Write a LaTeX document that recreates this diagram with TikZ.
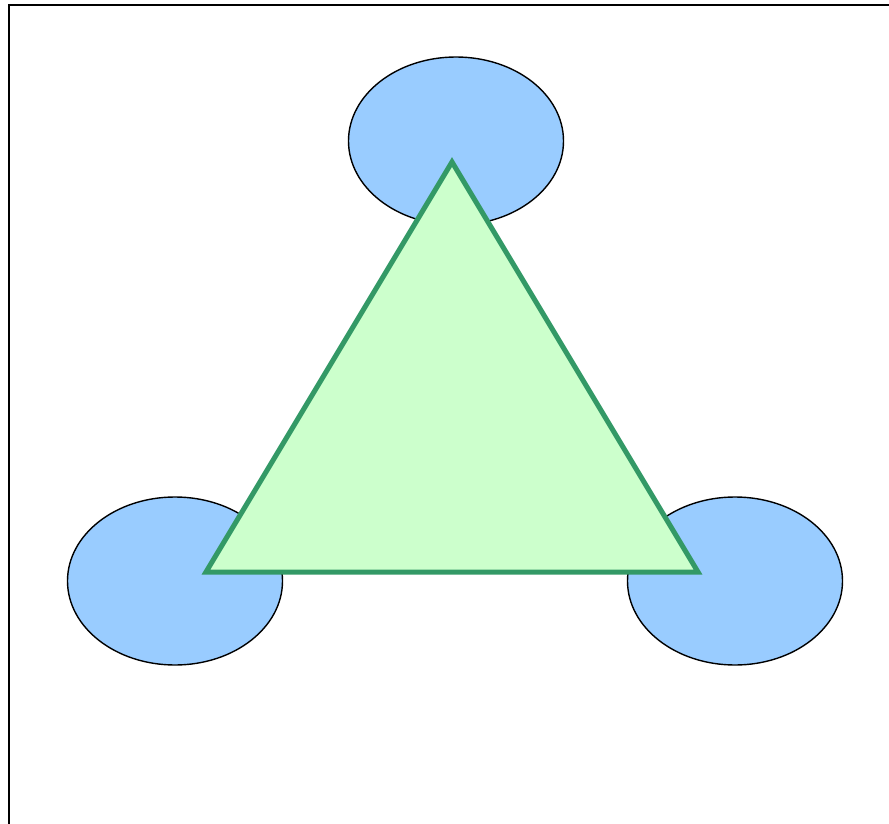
\documentclass[tikz,border=0pt]{standalone}
\usepackage{tikz}
\usetikzlibrary{shapes.geometric}

\definecolor{blobblue}{HTML}{99CCFF}
\definecolor{trifill}{HTML}{CCFFCC}
\definecolor{triline}{HTML}{339966}

\begin{document}
\begin{tikzpicture}[
    x=1pt, y=-1pt,
    frame/.style={line width=1.5pt}, % Style for the outer frame
    blob/.style={ellipse, draw, line width=1.4pt, fill=blobblue,
        minimum width=215pt, minimum height=168pt, inner sep=0pt}, % Style for the ellipses
    tri/.style={draw=triline, fill=trifill, line width=5pt, line join=miter} % Style for the triangle
]

    % Fix the page size
    \useasboundingbox (0,0) rectangle (889,824);

    % Frame (only its top and left edges are in view)
    \draw[frame] (9,830) -- (9,5) -- (895,5);

    % The three ellipses
    \node[blob] (top) at (456,141) {};
    \node[blob] (left) at (175,581) {};
    \node[blob] (right) at (735,581) {};

    % Corners of the triangle
    \coordinate (apex) at (452,162);
    \coordinate (bl) at (206,572);
    \coordinate (br) at (698,572);

    % Draw the triangle
    \draw[tri] (apex) -- (br) -- (bl) -- cycle;

\end{tikzpicture}
\end{document}
